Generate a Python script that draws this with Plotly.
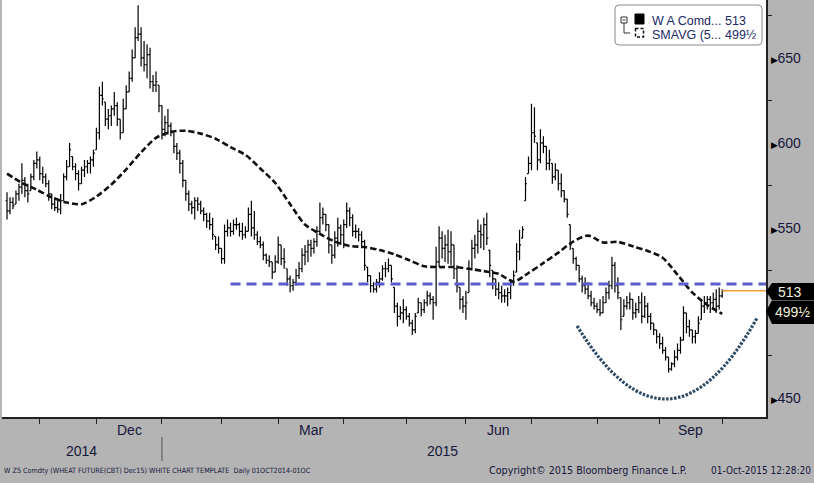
import pandas as pd
import plotly.graph_objects as go

# ---------------- data ----------------
start_date = "2014-10-17"
end_date = "2015-10-01"
holidays = ["2014-11-27", "2014-12-25", "2015-01-01", "2015-01-19", "2015-02-16",
            "2015-04-03", "2015-05-25", "2015-07-03", "2015-09-07"]

opens = [566,560,565,564,570,574,578,572,572,580,
         588,590,582,580,576,570,564,562,561,566,
         580,586,592,586,582,576,584,586,588,590,
         596,606,628,624,614,616,620,622,614,606,
         620,630,638,650,662,664,650,646,652,636,
         634,634,622,608,612,610,606,598,594,588,
         578,570,564,562,566,564,560,558,554,552,
         545,540,538,532,548,550,548,552,552,548,
         546,548,558,550,546,542,540,534,531,530,
         524,530,540,532,526,520,516,518,522,526,
         534,536,540,538,542,548,556,558,552,540,
         534,544,550,546,552,560,556,548,548,546,
         542,527,522,516,514,518,520,526,526,528,
         515,504,498,500,502,498,494,490,500,506,
         502,506,510,508,506,530,544,538,540,536,
         540,526,515,508,504,512,526,538,540,548,
         546,552,537,525,520,514,512,510,510,512,
         518,524,536,544,566,582,588,606,600,590,
         600,598,588,588,580,584,576,572,567,552,
         538,532,528,520,516,514,510,506,504,502,
         500,506,512,516,528,516,509,498,504,506,
         508,500,502,506,498,504,498,494,490,486,
         482,478,474,467,470,474,478,484,500,492,
         490,486,488,496,504,506,508,506,508,504,
         510]
highs = [571,568,568,572,576,588,580,576,582,590,
         595,592,586,582,578,570,568,566,570,582,
         590,600,592,588,584,586,590,590,592,596,
         609,633,636,624,620,622,630,624,614,626,
         634,642,655,668,681,668,660,658,656,640,
         642,634,622,616,620,612,606,600,596,590,
         578,572,566,568,568,566,562,559,559,556,
         545,545,538,552,555,553,555,556,553,553,
         551,562,566,560,548,545,542,535,534,530,
         534,545,540,538,526,522,520,526,530,538,
         540,543,543,544,551,565,562,558,552,540,
         548,556,552,555,565,562,558,552,550,548,
         543,527,522,518,520,524,528,530,532,528,
         515,506,504,508,504,500,496,500,509,506,
         508,513,512,510,539,551,548,546,549,548,
         540,528,515,510,513,531,543,546,555,552,
         556,559,537,525,520,518,516,514,515,520,
         525,541,549,551,580,592,623,621,600,608,
         604,598,596,588,588,584,582,572,567,552,
         538,533,528,522,521,518,513,509,506,508,
         510,515,519,533,530,521,509,508,510,512,
         508,506,510,512,510,506,500,494,490,488,
         486,480,474,471,478,482,486,504,500,496,
         490,490,498,508,510,510,510,512,514,515,
         514]
lows = [555,558,561,564,566,570,568,565,572,578,
        585,578,576,574,566,561,560,559,558,566,
        578,586,584,578,572,576,580,582,582,586,
        596,602,622,610,608,610,616,610,602,606,
        620,630,636,650,660,645,642,638,632,630,
        630,618,602,604,605,604,594,590,582,574,
        566,560,558,555,560,558,554,550,549,543,
        537,535,529,529,545,545,546,549,545,543,
        544,548,545,543,540,538,531,529,527,520,
        524,529,528,526,516,512,513,516,520,524,
        528,530,533,535,539,547,552,548,535,529,
        532,539,540,538,550,551,545,544,542,538,
        525,518,512,512,512,515,519,521,524,518,
        500,492,496,494,496,492,487,488,500,498,
        500,504,505,496,504,527,532,530,529,528,
        520,512,502,500,496,512,525,532,535,538,
        537,540,521,514,510,508,506,506,504,508,
        516,524,531,544,566,582,584,600,584,588,
        594,584,584,576,578,572,568,565,556,537,
        529,525,518,512,511,508,504,502,500,498,
        500,506,508,514,512,508,490,498,502,502,
        496,497,500,494,497,494,490,487,482,479,
        476,472,465,466,468,472,476,484,488,486,
        482,482,488,496,500,502,500,502,500,502,
        509]
closes = [560,565,563,570,574,578,572,570,580,588,
          590,582,580,576,570,564,562,561,566,580,
          586,596,586,582,576,584,586,588,590,594,
          606,628,626,614,616,620,622,614,606,620,
          630,638,650,662,664,650,646,652,636,634,
          636,622,608,612,610,607,598,594,588,578,
          570,564,562,566,564,560,558,554,552,546,
          540,538,532,548,550,548,552,552,548,546,
          548,558,550,546,542,540,534,531,530,524,
          530,540,532,530,520,516,518,522,526,534,
          536,540,538,542,548,556,558,552,540,534,
          544,550,546,552,560,556,548,548,546,542,
          528,522,516,514,518,520,526,526,528,520,
          504,498,500,502,498,494,490,498,506,502,
          506,510,508,506,530,544,538,540,536,540,
          526,516,508,504,506,526,538,540,548,546,
          552,544,528,520,514,512,510,510,512,518,
          522,536,540,549,576,588,606,604,590,600,
          598,588,590,580,584,576,572,567,558,540,
          532,528,520,516,514,510,506,504,502,500,
          506,512,516,528,516,512,496,504,506,508,
          500,502,506,498,504,498,494,490,486,482,
          478,474,467,470,474,478,484,500,492,490,
          486,488,494,504,506,508,506,508,504,510,
          513]
# SMAVG sampled every 5th trading day
ma_step = 5
smavg = [582,576.5,572.5,568,565,564,568.5,575.5,584.5,594.5,
         603,606.5,607.2,605.5,602.5,597.5,593,585,576.5,564,
         552,546.5,542,539.4,538.8,537,534.5,531,527.5,527,
         527,526,524.6,523,518.5,523.5,529.4,535.5,542,545.5,
         541.5,541.8,539.2,536.5,532.5,522.5,512,504.7,499.5]
support_level = 517
last_price = "513"
last_ma = "499½"
curve_pts = [(191.3, 492.4), (222.1, 404.1), (251.7, 497.1)]  # hand-drawn arc (start, control, end)
month_labels = {12: "Dec", 3: "Mar", 6: "Jun", 9: "Sep"}
y_ticks = [450, 550, 600, 650]
y_minor = [475, 525, 575, 625, 675]

# ---------------- figure ----------------
W, H = 814, 483
ML, MR, MT, MB = 2, 48, 0, 66
PW, PH = W - ML - MR, H - MT - MB

dates = pd.bdate_range(start_date, end_date, freq="C", holidays=holidays)
n = len(closes)
dates = list(dates[-n:]) if len(dates) >= n else list(dates)
idx = list(range(n))
XMIN, XMAX = -1.68, 254.7
YMIN, YMAX = 438.8, 684.1

GRAY = "#b4b4b4"
TXT = "#16163a"
FONT = "Liberation Sans, Arial, sans-serif"


def px(x):
    return (x - ML) / PW


def py(y):
    return (MT + PH - y) / PH


fig = go.Figure()
fig.add_trace(go.Ohlc(
    x=idx, open=opens, high=highs, low=lows, close=closes,
    increasing=dict(line=dict(color="#000000", width=1.2)),
    decreasing=dict(line=dict(color="#000000", width=1.2)),
    tickwidth=0.5, showlegend=False, hoverinfo="skip"))
fig.add_trace(go.Scatter(
    x=idx[::ma_step][:len(smavg)], y=smavg, mode="lines",
    line=dict(color="#111111", width=2.6, dash="6px,3px", shape="spline", smoothing=0.8),
    showlegend=False, hoverinfo="skip"))

shapes = []
# support line
shapes.append(dict(type="line", xref="x", yref="y", x0=75, x1=XMAX, y0=support_level, y1=support_level,
                   line=dict(color="#5a5ec8", width=3, dash="10px,6px"), layer="above"))
# last price line
shapes.append(dict(type="line", xref="x", yref="y", x0=n - 1, x1=XMAX, y0=float(last_price), y1=float(last_price),
                   line=dict(color="#f2a235", width=1.5), layer="above"))
# dotted arc
(p0, p1, p2) = curve_pts
shapes.append(dict(type="path", xref="x", yref="y",
                   path=f"M {p0[0]},{p0[1]} Q {p1[0]},{p1[1]} {p2[0]},{p2[1]}",
                   line=dict(color="#2c4863", width=3.2, dash="2.5px,1.5px"), layer="above"))


def poly(points):
    s = "M " + " L ".join(f"{px(a):.5f},{py(b):.5f}" for a, b in points) + " Z"
    return s


# price tags on the right axis
shapes.append(dict(type="path", xref="paper", yref="paper", layer="above",
                   path=poly([(766, 291.5), (772, 283), (814, 283), (814, 300), (772, 300)]),
                   fillcolor="#000000", line=dict(width=0)))
shapes.append(dict(type="path", xref="paper", yref="paper", layer="above",
                   path=poly([(766, 311), (772, 300.5), (814, 300.5), (814, 324), (772, 324)]),
                   fillcolor="#000000", line=dict(width=0)))

# legend box (rounded)
lx0, ly0, lx1, ly1, r = 615, 5, 762, 45, 4
rr = (f"M {px(lx0 + r)},{py(ly0)} L {px(lx1 - r)},{py(ly0)} Q {px(lx1)},{py(ly0)} {px(lx1)},{py(ly0 + r)} "
      f"L {px(lx1)},{py(ly1 - r)} Q {px(lx1)},{py(ly1)} {px(lx1 - r)},{py(ly1)} "
      f"L {px(lx0 + r)},{py(ly1)} Q {px(lx0)},{py(ly1)} {px(lx0)},{py(ly1 - r)} "
      f"L {px(lx0)},{py(ly0 + r)} Q {px(lx0)},{py(ly0)} {px(lx0 + r)},{py(ly0)} Z")
shapes.append(dict(type="path", xref="paper", yref="paper", layer="above", path=rr,
                   fillcolor="#ffffff", line=dict(color="#8a8a8a", width=1)))
# tree icon
shapes.append(dict(type="rect", xref="paper", yref="paper", layer="above",
                   x0=px(621), x1=px(627), y0=py(17), y1=py(23), fillcolor="#ffffff",
                   line=dict(color="#333333", width=1)))
shapes.append(dict(type="line", xref="paper", yref="paper", layer="above",
                   x0=px(622.5), x1=px(625.5), y0=py(20), y1=py(20), line=dict(color="#333333", width=1)))
shapes.append(dict(type="path", xref="paper", yref="paper", layer="above",
                   path=f"M {px(624)},{py(23)} L {px(624)},{py(33)} L {px(630)},{py(33)}",
                   line=dict(color="#333333", width=1)))
# legend symbols
shapes.append(dict(type="rect", xref="paper", yref="paper", layer="above",
                   x0=px(635), x1=px(644), y0=py(14), y1=py(24), fillcolor="#000000",
                   line=dict(color="#000000", width=1)))
shapes.append(dict(type="rect", xref="paper", yref="paper", layer="above",
                   x0=px(635.5), x1=px(643.5), y0=py(28.5), y1=py(37), fillcolor="rgba(0,0,0,0)",
                   line=dict(color="#111111", width=1.5, dash="3px,2px")))

# bottom axis month ticks and labels
month_starts = [i for i in range(1, n) if dates[i].month != dates[i - 1].month]
bounds = month_starts + [n]
annotations = []
for j, s in enumerate(month_starts):
    m = dates[s].month
    if m in month_labels and j + 1 < len(bounds):
        mid = (s + bounds[j + 1]) / 2
        annotations.append(dict(x=mid, y=py(430), xref="x", yref="paper", text=month_labels[m],
                                showarrow=False, font=dict(family=FONT, size=14, color=TXT),
                                xanchor="center", yanchor="middle"))
jan = [s for s in month_starts if dates[s].month == 1][0]
annotations.append(dict(x=(XMIN + jan) / 2, y=py(451), xref="x", yref="paper", text=str(dates[0].year),
                        showarrow=False, font=dict(family=FONT, size=14, color=TXT),
                        xanchor="center", yanchor="middle"))
annotations.append(dict(x=(jan + n - 1) / 2, y=py(451), xref="x", yref="paper", text=str(dates[-1].year),
                        showarrow=False, font=dict(family=FONT, size=14, color=TXT),
                        xanchor="center", yanchor="middle"))
shapes.append(dict(type="line", xref="x", yref="paper", x0=jan, x1=jan, y0=py(437), y1=py(461),
                   line=dict(color="#555555", width=1)))

# tag texts
annotations.append(dict(x=px(790), y=py(291.5), xref="paper", yref="paper", text=last_price,
                        showarrow=False, xanchor="center", yanchor="middle",
                        font=dict(family=FONT, size=14, color="#f3efd8")))
annotations.append(dict(x=px(792), y=py(312), xref="paper", yref="paper", text=last_ma,
                        showarrow=False, xanchor="center", yanchor="middle",
                        font=dict(family=FONT, size=14, color="#f3efd8")))

# legend texts
LEG = "#1c2a66"
for (t, x, y) in [("W A Comd...", 650, 20.5), (last_price, 723, 20.5),
                  ("SMAVG (5...", 650, 35), (last_ma, 723, 35)]:
    annotations.append(dict(x=px(x), y=py(y), xref="paper", yref="paper", text=t, showarrow=False,
                            xanchor="left", yanchor="middle", font=dict(family=FONT, size=12.5, color=LEG)))

# footer
FOOT = "Liberation Sans Narrow, DejaVu Sans Condensed, sans-serif"
for (t, x, s) in [("W Z5 Comdty (WHEAT FUTURE(CBT) Dec15) WHITE CHART TEMPLATE  Daily 01OCT2014-01OC", 2, 7.2),
                  ("Copyright\u00a9 2015 Bloomberg Finance L.P.", 487, 10.7),
                  ("01-Oct-2015 12:28:20", 709, 10)]:
    annotations.append(dict(x=px(x), y=py(470), xref="paper", yref="paper", text=t, showarrow=False,
                            xanchor="left", yanchor="middle", font=dict(family=FOOT, size=s, color=TXT)))

tri = "<span style='font-size:9px;color:#000'>\u25b6</span>"
fig.update_layout(
    width=W, height=H, margin=dict(l=ML, r=MR, t=MT, b=MB, pad=0),
    paper_bgcolor=GRAY, plot_bgcolor="#ffffff",
    showlegend=False, shapes=shapes, annotations=annotations,
    xaxis=dict(range=[XMIN, XMAX], rangeslider=dict(visible=False), showgrid=False, zeroline=False,
               tickvals=month_starts, ticktext=["" for _ in month_starts], ticks="outside",
               ticklen=5, tickcolor="#222222", showline=True, linecolor="#222222", linewidth=1.5),
    yaxis=dict(range=[YMIN, YMAX], side="right", showgrid=False, zeroline=False,
               tickvals=y_ticks, ticktext=[tri + str(v) for v in y_ticks], ticks="",
               tickfont=dict(family=FONT, size=14, color=TXT),
               minor=dict(tickvals=y_minor, ticks="outside", ticklen=4, tickcolor="#222222"),
               showline=True, linecolor="#222222", linewidth=1.5),
    font=dict(family=FONT),
)
fig.write_html("out.html", config={"displayModeBar": False},
               post_script="document.body.style.margin='0px';document.body.style.padding='0px';")
